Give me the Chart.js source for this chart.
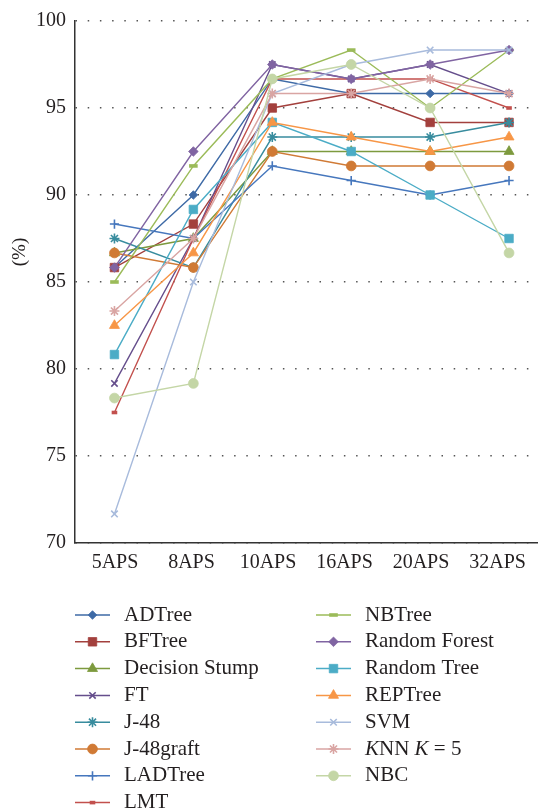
<!DOCTYPE html>
<html>
<head>
<meta charset="utf-8">
<script src="https://cdn.jsdelivr.net/npm/chart.js@4/dist/chart.umd.min.js"></script>
<style>
  html, body { margin: 0; padding: 0; background: #fff; }
  #wrap { width: 538px; height: 812px; }
</style>
</head>
<body>
<div id="wrap"><canvas id="accChart" width="538" height="812"></canvas></div>
<script>
// ── Data ────────────────────────────────────────────────────────────────────

const categories = ['5APS', '8APS', '10APS', '16APS', '20APS', '32APS'];
const yTicks = [70, 75, 80, 85, 90, 95, 100];

const seriesNames = [
  'ADTree', 'BFTree', 'Decision Stump', 'FT', 'J-48', 'J-48graft', 'LADTree', 'LMT',
  'NBTree', 'Random Forest', 'Random Tree', 'REPTree', 'SVM', 'KNN K = 5', 'NBC'
];

const adTree        = [85.83, 90.00, 96.67, 95.83, 95.83, 95.83];
const bfTree        = [85.83, 88.33, 95.00, 95.83, 94.17, 94.17];
const decisionStump = [86.67, 87.50, 92.50, 92.50, 92.50, 92.50];
const ft            = [79.17, 87.50, 97.50, 96.67, 97.50, 95.83];
const j48           = [87.50, 85.83, 93.33, 93.33, 93.33, 94.17];
const j48graft      = [86.67, 85.83, 92.50, 91.67, 91.67, 91.67];
const ladTree       = [88.33, 87.50, 91.67, 90.83, 90.00, 90.83];
const lmt           = [77.50, 87.50, 96.67, 96.67, 96.67, 95.00];
const nbTree        = [85.00, 91.67, 96.67, 98.33, 95.00, 98.33];
const randomForest  = [85.83, 92.50, 97.50, 96.67, 97.50, 98.33];
const randomTree    = [80.83, 89.17, 94.17, 92.50, 90.00, 87.50];
const repTree       = [82.50, 86.67, 94.17, 93.33, 92.50, 93.33];
const svm           = [71.67, 85.00, 95.83, 97.50, 98.33, 98.33];
const knn5          = [83.33, 87.50, 95.83, 95.83, 96.67, 95.83];
const nbc           = [78.33, 79.17, 96.67, 97.50, 95.00, 86.67];

const seriesValues = [
  adTree, bfTree, decisionStump, ft, j48, j48graft, ladTree, lmt,
  nbTree, randomForest, randomTree, repTree, svm, knn5, nbc
];

// ── Styles ──────────────────────────────────────────────────────────────────

const colors = [
  '#3e6aa6', '#a3403d', '#7d9a3e', '#654e8c', '#388c9e', '#d07a35', '#4677bd', '#c2504d',
  '#9bbb59', '#8064a2', '#4bacc6', '#f79646', '#a8bbdc', '#d9a5a3', '#c4d6a6'
];
const pointStyles = [
  'rectRot', 'rect', 'triangle', 'crossRot', 'star', 'circle', 'cross', 'line',
  'line', 'rectRot', 'rect', 'triangle', 'crossRot', 'star', 'circle'
];
const pointSizes = [4.3, 6, 5.8, 4.5, 5, 4.9, 4.6, 2.8, 4.3, 4.8, 6, 5.8, 4.6, 5, 4.9];
const strokeOnly = ['cross', 'crossRot', 'star', 'line'];

const TEXT = '#231f20';
const FONT = 'Liberation Serif, Times New Roman, serif';

// ── Chart ───────────────────────────────────────────────────────────────────

function markerBorder(i) {
  if (pointStyles[i] === 'line') return 3.6;
  return strokeOnly.includes(pointStyles[i]) ? 1.6 : 0.8;
}

const datasets = seriesNames.map((name, i) => ({
  label: name,
  data: seriesValues[i].map((v, k) => ({ x: k, y: v })),
  xAxisID: 'x',
  yAxisID: 'y',
  borderColor: colors[i],
  backgroundColor: colors[i],
  borderWidth: 1.4,
  pointStyle: pointStyles[i],
  pointRadius: pointSizes[i],
  pointBorderWidth: markerBorder(i),
  pointBackgroundColor: colors[i],
  pointBorderColor: colors[i],
  tension: 0,
  order: seriesNames.length - i
}));

function drawMarker(ctx, i, x, y) {
  ctx.save();
  ctx.fillStyle = colors[i];
  ctx.strokeStyle = colors[i];
  ctx.lineWidth = markerBorder(i);
  if (Chart.helpers && Chart.helpers.drawPoint) {
    Chart.helpers.drawPoint(ctx, {
      pointStyle: pointStyles[i], radius: pointSizes[i], rotation: 0, borderWidth: markerBorder(i)
    }, x, y);
  } else {
    ctx.beginPath();
    ctx.arc(x, y, pointSizes[i], 0, Math.PI * 2);
    ctx.fill();
  }
  ctx.restore();
}

const legendPlugin = {
  id: 'sideLegend',
  afterDraw(chart) {
    const ctx = chart.ctx;
    ctx.save();

    // y-axis title
    ctx.translate(20, 252);
    ctx.rotate(-Math.PI / 2);
    ctx.fillStyle = TEXT;
    ctx.font = '19px ' + FONT;
    ctx.textAlign = 'center';
    ctx.textBaseline = 'middle';
    ctx.fillText('(%)', 0, 0);
    ctx.setTransform(1, 0, 0, 1, 0, 0);

    // legend in two columns
    const colX = [75, 316];
    const rowY0 = 615, rowGap = 26.8;
    seriesNames.forEach((name, i) => {
      const col = i < 8 ? 0 : 1;
      const row = i < 8 ? i : i - 8;
      const x0 = colX[col];
      const y = rowY0 + row * rowGap;
      ctx.strokeStyle = colors[i];
      ctx.lineWidth = 1.5;
      ctx.beginPath();
      ctx.moveTo(x0, y);
      ctx.lineTo(x0 + 35, y);
      ctx.stroke();
      drawMarker(ctx, i, x0 + 17.5, y);

      ctx.fillStyle = TEXT;
      ctx.textAlign = 'left';
      ctx.textBaseline = 'middle';
      let tx = x0 + 49;
      if (name === 'KNN K = 5') {
        const parts = [['K', true], ['NN ', false], ['K', true], [' = 5', false]];
        parts.forEach(([t, it]) => {
          ctx.font = (it ? 'italic ' : '') + '21px ' + FONT;
          ctx.fillText(t, tx, y);
          tx += ctx.measureText(t).width;
        });
      } else {
        ctx.font = '21px ' + FONT;
        ctx.fillText(name, tx, y);
      }
    });
    ctx.restore();
  }
};

new Chart(document.getElementById('accChart'), {
  type: 'line',
  data: { datasets },
  plugins: [legendPlugin],
  options: {
    responsive: false,
    animation: false,
    events: [],
    layout: { autoPadding: false, padding: { top: 15, right: 0, bottom: 229, left: 0 } },
    plugins: {
      legend: { display: false },
      tooltip: { enabled: false }
    },
    scales: {
      // data axis (hidden), one category per unit
      x: {
        type: 'linear',
        display: false,
        min: -0.5,
        max: 5.367
      },
      // category labels sit a little tighter than the points in the original
      xLabels: {
        type: 'linear',
        axis: 'x',
        position: 'bottom',
        min: -0.523,
        max: 5.529,
        afterBuildTicks: axis => { axis.ticks = categories.map((c, i) => ({ value: i })); },
        afterFit: axis => { axis.height = 40; axis.paddingLeft = 0; axis.paddingRight = 0; },
        ticks: {
          autoSkip: false,
          maxRotation: 0,
          color: TEXT,
          padding: 8,
          font: { family: FONT, size: 20 },
          callback: v => categories[v]
        },
        grid: { display: false, drawTicks: false },
        border: { display: true, color: '#333', width: 1.5 }
      },
      y: {
        min: 70,
        max: 100,
        afterBuildTicks: axis => { axis.ticks = yTicks.map(v => ({ value: v })); },
        afterFit: axis => { axis.width = 75; },
        ticks: {
          color: TEXT,
          padding: 9,
          font: { family: FONT, size: 20 }
        },
        grid: { color: '#555', lineWidth: 1.4, drawTicks: false },
        border: { display: true, color: '#333', width: 1.5, dash: [1.5, 10.7] }
      }
    }
  }
});
</script>
</body>
</html>
